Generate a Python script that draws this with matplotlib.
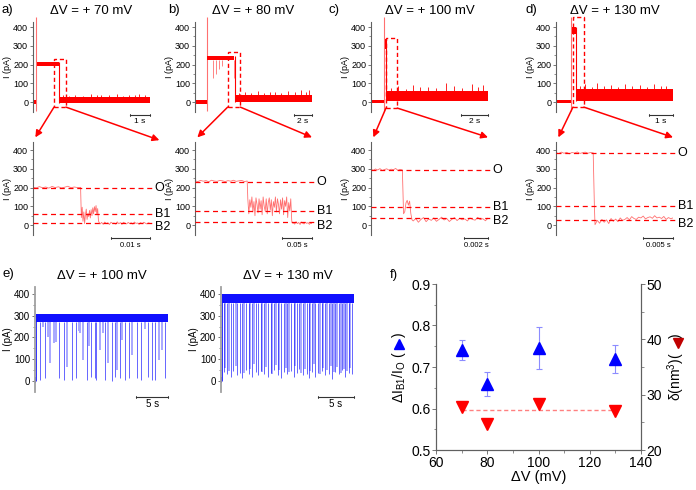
import numpy as np
import matplotlib.pyplot as plt
from matplotlib.patches import Rectangle, ConnectionPatch

plt.rcParams["font.family"] = ["Liberation Sans", "DejaVu Sans"]
plt.rcParams["mathtext.fontset"] = "custom"
plt.rcParams["mathtext.rm"] = "Liberation Sans"
plt.rcParams["mathtext.it"] = "Liberation Sans:italic"

# ---------------- data ----------------
# top traces: segments (start s, end s, band low pA, band high pA)
a_top_t0 = [0.0, 0.2, 1.3]
a_top_t1 = [0.15, 1.3, 5.85]
a_top_lo = [-8, 190, -4]
a_top_hi = [12, 214, 28]
a_top_spike = 0.17
a_top_bump_t = [1.5, 1.8, 2.1, 2.5, 2.9, 3.2, 3.4, 3.8, 4.2, 4.5, 4.8, 5.1, 5.3, 5.6]
a_top_bump_I = [40, 34, 38, 33, 45, 35, 36, 40, 42, 34, 39, 37, 44, 36]
a_win = [1.05, 1.65, -27, 229]

b_top_t0 = [0.0, 1.35, 4.45]
b_top_t1 = [1.3, 4.3, 12.9]
b_top_lo = [-8, 222, -2]
b_top_hi = [10, 247, 40]
b_top_spike = 1.32
b_top_bump_t = [4.9, 5.5, 6.2, 7.0, 7.6, 8.3, 8.8, 9.5, 10.3, 11.0, 11.7, 12.2, 12.6]
b_top_bump_I = [50, 55, 48, 60, 50, 54, 52, 49, 58, 53, 62, 55, 65]
b_open_dip_t = [2.0, 2.3, 2.6, 3.0, 4.35]
b_open_dip_I = [130, 150, 175, 190, 130]
b_win = [3.6, 5.0, -27, 267]

c_top_t0 = [0.0, 1.0, 1.13]
c_top_t1 = [0.96, 1.11, 8.6]
c_top_lo = [-5, 285, 3]
c_top_hi = [12, 335, 60]
c_top_spike = 0.98
c_top_bump_t = [1.5, 2.0, 2.6, 3.1, 3.6, 4.2, 4.8, 5.5, 6.1, 6.7, 7.4, 7.9, 8.2]
c_top_bump_I = [75, 85, 72, 90, 78, 80, 74, 100, 88, 76, 95, 80, 92]
c_win = [1.1, 1.93, -32, 341]

d_top_t0 = [0.0, 0.66, 0.85]
d_top_t1 = [0.62, 0.83, 4.9]
d_top_lo = [-5, 365, 3]
d_top_hi = [10, 400, 68]
d_top_spike = 0.64
d_top_bump_t = [1.0, 1.2, 1.5, 1.7, 2.0, 2.3, 2.6, 2.9, 3.2, 3.5, 3.8, 4.1, 4.4, 4.6]
d_top_bump_I = [85, 95, 80, 100, 84, 90, 82, 98, 86, 92, 81, 96, 84, 88]
d_win = [0.71, 1.17, -27, 453]

# zoomed traces: (segment start, segment end) and sampled currents in pA
za_spans = [(0.0, 0.0122), (0.0124, 0.0170), (0.0172, 0.030)]
za_vals = [
    [202, 198, 205, 199, 203, 197, 206, 200, 204, 198, 202, 207, 199, 203, 200, 201],
    [40, 95, 20, 70, 8, 55, 85, 30, 62, 45, 78, 38, 82, 50, 92, 60, 98, 72, 104, 55, 88, 22, 12],
    [6, 14, 4, 16, 8, 12, 3, 15, 9, 11, 5, 17, 7, 13, 4, 15, 10, 6, 14, 8, 12, 5, 16, 9, 11, 4, 13, 7, 15, 10, 6, 12, 9],
]
za_levels = [200, 60, 10]

zb_spans = [(0.0, 0.087), (0.088, 0.163), (0.164, 0.195)]
zb_vals = [
    [236, 232, 238, 234, 237, 231, 239, 235, 233, 238, 236, 232, 237, 234, 239, 233, 236, 238, 232, 235],
    [140, 60, 135, 95, 150, 70, 125, 50, 145, 110, 65, 140, 85, 130, 55, 150, 100, 75, 140, 60, 120, 145, 80,
     135, 50, 125, 95, 150, 70, 140, 110, 60, 135, 85, 145, 55, 130, 100, 150, 40, 120, 75, 140, 20, 10],
    [12, 5, 18, 8, 14, 3, 16, 10, 6, 15, 9, 13, 4, 11, 8],
]
zb_levels = [230, 75, 15]

zc_spans = [(0.0, 0.0026), (0.0027, 0.0034), (0.0035, 0.0097)]
zc_vals = [
    [297, 292, 299, 294, 301, 291, 296, 300, 293, 298, 295, 302, 292, 297, 294],
    [60, 72, 118, 132, 106, 128, 62, 28],
    [22, 35, 15, 30, 40, 18, 33, 25, 38, 20, 30, 42, 27, 35, 19, 31, 40, 24, 36, 28, 33, 22, 38, 30, 26,
     41, 29, 34, 23, 37],
]
zc_levels = [295, 95, 40]

zd_spans = [(0.0, 0.0062), (0.0063, 0.0064), (0.0065, 0.0195)]
zd_vals = [
    [386, 381, 389, 383, 388, 380, 387, 384, 390, 382, 386, 389, 383, 387, 385],
    [240, 100],
    [2, 25, 10, 30, 15, 28, 8, 35, 20, 32, 18, 38, 25, 30, 40, 28, 45, 35, 30, 42, 38, 48, 33, 40, 44, 36,
     50, 38, 42, 35, 46, 30, 40, 34, 38],
]
zd_levels = [385, 100, 25]
level_names = ["O", "B1", "B2"]

# panel e: long recordings, open band and blockade events (time s, lowest pA)
e1_T = 21.0
e1_band = [272, 308]
e1_strong_t = [0.8, 1.6, 3.8, 4.5, 5.8, 6.4, 8.2, 8.8, 9.5, 9.7, 11.1, 12.1, 12.6, 13.4, 14.2, 14.9, 16.1,
               16.8, 17.9, 18.4, 18.9, 20.5]
e1_strong_I = [5, 12, 12, 5, 5, 12, 5, 20, 12, 5, 5, 0, 20, 12, 5, 12, 12, 5, 20, 5, 5, 12]
e1_faint_t = [1.2, 2.0, 2.4, 3.0, 3.3, 5.1, 6.9, 7.1, 7.6, 8.5, 10.3, 10.8, 11.6, 13.0, 13.8, 15.3, 17.3,
              19.5, 20.0]
e1_faint_I = [250, 200, 81, 173, 180, 66, 230, 219, 97, 160, 143, 220, 81, 51, 190, 120, 240, 97, 143]

e2_T = 18.3
e2_band = [360, 402]
e2_strong_t = [0.4, 0.8, 1.4, 1.7, 2.2, 2.6, 2.9, 3.5, 3.8, 4.3, 4.8, 5.1, 5.5, 5.9, 6.4, 6.9, 7.3, 7.8,
               8.3, 8.6, 9.1, 9.6, 10.0, 10.4, 10.8, 11.3, 11.8, 12.1, 12.5, 13.0, 13.4, 13.9, 14.3, 14.8,
               15.3, 15.7, 16.2, 16.7, 17.1, 17.6, 18.0]
e2_strong_I = [40, 30, 20, 45, 25, 35, 15, 50, 30, 20, 40, 25, 45, 30, 20, 35, 50, 25, 15, 40, 30, 45, 20,
               35, 55, 25, 30, 15, 40, 20, 35, 45, 25, 30, 10, 40, 30, 50, 20, 35, 30]
e2_faint_t = [0.6, 1.1, 2.0, 3.2, 4.0, 4.6, 5.7, 6.2, 7.0, 7.6, 8.0, 8.9, 9.4, 10.2, 11.0, 11.6, 12.3, 12.8,
              13.6, 14.1, 14.6, 15.1, 15.5, 16.0, 16.5, 16.9, 17.4, 17.8]
e2_faint_I = [60, 45, 70, 35, 55, 80, 40, 65, 30, 75, 50, 60, 40, 70, 35, 55, 45, 80, 30, 60, 50, 70, 40,
              65, 35, 55, 45, 60]

# panel f
f_dv = [70, 80, 100, 130]
f_ratio = [0.741, 0.659, 0.746, 0.719]
f_ratio_err = [0.024, 0.028, 0.050, 0.033]
f_delta = [27.8, 24.7, 28.3, 27.1]
f_delta_mean = 27.2

# ---------------- drawing ----------------
RED = "#ff0000"
RED_LIGHT = "#ff7070"
BLUE = "#1010ff"
BLUE_LIGHT = "#a8a8ff"
AXC = "#606060"
W, H = 696, 490

fig = plt.figure(figsize=(6.96, 4.9), dpi=100)


def px_axes(left, top, width, height):
    return fig.add_axes([left / W, 1 - (top + height) / H, width / W, height / H])


def trace_style(ax, ylim, fs=6.5):
    ax.set_ylim(*ylim)
    for s in ["top", "right", "bottom"]:
        ax.spines[s].set_visible(False)
    ax.spines["left"].set_color(AXC)
    ax.spines["left"].set_linewidth(0.8)
    ax.set_xticks([])
    ax.set_yticks([0, 100, 200, 300, 400])
    ax.set_yticks([50, 150, 250, 350], minor=True)
    ax.tick_params(axis="y", which="major", labelsize=fs, length=2.5, width=0.6, pad=1, color=AXC)
    ax.tick_params(axis="y", which="minor", length=1.5, width=0.5, color=AXC)
    ax.set_ylabel("I (pA)", fontsize=fs, labelpad=1)
    ax.patch.set_alpha(0)


def scale_bar(ax, T, length, label, y, ytext, fs=6):
    ax.plot([T - length, T], [y, y], color="#333333", lw=0.8, clip_on=False)
    for x in (T - length, T):
        ax.plot([x, x], [y - 6, y + 6], color="#333333", lw=0.6, clip_on=False)
    ax.text(T - length / 2, ytext, label, ha="center", va="center", fontsize=fs)


def draw_top(ax, t0, t1, lo, hi, spike, bump_t, bump_I, win, T):
    for a, b, l, h in zip(t0, t1, lo, hi):
        ax.fill_between([a, b], [l, l], [h, h], color=RED, lw=0, zorder=2)
    ax.vlines(spike, -50, 455, color=RED_LIGHT, lw=0.8, clip_on=False, zorder=1)
    ax.vlines(t0[-1], lo[-1], hi[-2], color=RED, lw=0.8)
    ax.vlines(bump_t, hi[-1], bump_I, color=RED, lw=0.6)
    ax.add_patch(Rectangle((win[0], win[2]), win[1] - win[0], win[3] - win[2], fill=False,
                           ec=RED, ls=(0, (3, 2)), lw=1.0, clip_on=False, zorder=3))
    ax.set_xlim(0, T)


def draw_zoom(ax, spans, vals, levels, T):
    t = np.concatenate([np.linspace(s[0], s[1], len(v)) for s, v in zip(spans, vals)])
    I = np.concatenate([np.asarray(v, float) for v in vals])
    ax.plot(t, I, color=RED_LIGHT, lw=0.6, zorder=2)
    for lev, name in zip(levels, level_names):
        ax.plot([0, T * 1.02], [lev, lev], color=RED, ls=(0, (4, 3)), lw=0.9, clip_on=False, zorder=3)
        off = -18 if name == "B2" else 0
        ax.text(T * 1.04, lev + off, name, fontsize=9, va="center", ha="left")
    ax.set_xlim(0, T)


def arrows(ax_top, ax_zoom, win, right_tip=(1.0, 1.05)):
    for xa, tip in ((win[0], (0.02, 1.05)), (win[1], right_tip)):
        con = ConnectionPatch(xyA=(xa, win[2]), coordsA=ax_top.transData, xyB=tip,
                              coordsB=ax_zoom.transAxes, arrowstyle="-|>", color=RED, lw=1.1,
                              mutation_scale=10, zorder=5)
        fig.add_artist(con)


top_y = (-53, 427)
zoom_y = (-53, 443)
lefts = [33, 195, 371, 556]
titles = ["ΔV = + 70 mV", "ΔV = + 80 mV", "ΔV = + 100 mV", "ΔV = + 130 mV"]
letters = ["a)", "b)", "c)", "d)"]
letter_x = [7, 174, 334, 531]

top_specs = [
    (a_top_t0, a_top_t1, a_top_lo, a_top_hi, a_top_spike, a_top_bump_t, a_top_bump_I, a_win, 5.85, 1, "1 s"),
    (b_top_t0, b_top_t1, b_top_lo, b_top_hi, b_top_spike, b_top_bump_t, b_top_bump_I, b_win, 12.9, 2, "2 s"),
    (c_top_t0, c_top_t1, c_top_lo, c_top_hi, c_top_spike, c_top_bump_t, c_top_bump_I, c_win, 8.6, 2, "2 s"),
    (d_top_t0, d_top_t1, d_top_lo, d_top_hi, d_top_spike, d_top_bump_t, d_top_bump_I, d_win, 4.9, 1, "1 s"),
]
zoom_specs = [
    (za_spans, za_vals, za_levels, 0.030, 0.01, "0.01 s"),
    (zb_spans, zb_vals, zb_levels, 0.195, 0.05, "0.05 s"),
    (zc_spans, zc_vals, zc_levels, 0.0097, 0.002, "0.002 s"),
    (zd_spans, zd_vals, zd_levels, 0.0195, 0.005, "0.005 s"),
]

for i in range(4):
    ax_t = px_axes(lefts[i], 22, 117, 90)
    ax_z = px_axes(lefts[i], 142, 117, 93)
    trace_style(ax_t, top_y)
    trace_style(ax_z, zoom_y)
    t0, t1, lo, hi, sp, bt, bI, win, T, bl, blab = top_specs[i]
    draw_top(ax_t, t0, t1, lo, hi, sp, bt, bI, win, T)
    scale_bar(ax_t, T, bl, blab, -69, -103)
    if i == 1:
        ax_t.vlines(b_open_dip_t, b_open_dip_I, b_top_lo[1], color=RED_LIGHT, lw=0.6)
    spans, vals, levels, Tz, zl, zlab = zoom_specs[i]
    draw_zoom(ax_z, spans, vals, levels, Tz)
    scale_bar(ax_z, Tz, zl, zlab, -69, -107, fs=5.5)
    arrows(ax_t, ax_z, win, right_tip=(1.08, 1.02) if i == 0 else (1.0, 1.05))
    ax_t.set_title(titles[i], fontsize=9.5, pad=6)
    fig.text(letter_x[i] / W, 1 - 10 / H, letters[i], fontsize=9.5, ha="center", va="center")

# panel e
e_y = (-51, 432)
for left, T, band, st, sI, ft, fI, title in (
        (35, e1_T, e1_band, e1_strong_t, e1_strong_I, e1_faint_t, e1_faint_I, "ΔV = + 100 mV"),
        (221, e2_T, e2_band, e2_strong_t, e2_strong_I, e2_faint_t, e2_faint_I, "ΔV = + 130 mV")):
    ax = px_axes(left, 287, 133, 105)
    trace_style(ax, e_y, fs=7)
    ax.spines["left"].set_color("#a0a0a0")
    ax.spines["left"].set_linewidth(1.3)
    ax.fill_between([0, 0.12], [-10, -10], [20, 20], color=BLUE, lw=0)
    ax.vlines(0.12, 0, band[1], color=BLUE, lw=0.6)
    ax.fill_between([0.12, T], [band[0], band[0]], [band[1], band[1]], color=BLUE, lw=0, zorder=3)
    ax.vlines(ft, fI, band[0], color=BLUE_LIGHT, lw=1.4, zorder=1)
    ax.vlines(st, sI, band[0], color=BLUE, lw=0.6, alpha=0.75, zorder=2)
    ax.set_xlim(0, T)
    scale_bar(ax, T, 5, "5 s", -74, -106, fs=7)
    ax.set_title(title, fontsize=9.5, pad=6)
fig.text(8 / W, 1 - 274 / H, "e)", fontsize=9.5, ha="center", va="center")

# panel f
axf = px_axes(436, 284, 205, 166)
axf.errorbar(f_dv, f_ratio, yerr=f_ratio_err, fmt="^", color="#0000ff", ms=9, ecolor="#8c8cff",
             elinewidth=0.8, capsize=2.5, capthick=0.8, zorder=3)
axf.set_xlim(60, 140)
axf.set_ylim(0.5, 0.9)
axf.set_xticks([60, 80, 100, 120, 140])
axf.set_xticks([70, 90, 110, 130], minor=True)
axf.set_yticks([0.5, 0.6, 0.7, 0.8, 0.9])
axf.set_yticks([0.55, 0.65, 0.75, 0.85], minor=True)
axf.set_xlabel("ΔV (mV)", fontsize=10.5, labelpad=0)
axf.set_ylabel("ΔI$_{\\mathrm{B1}}$/I$_{\\mathrm{O}}$ (    )", fontsize=10, labelpad=2)
axf2 = axf.twinx()
axf2.plot(f_dv, f_delta, "v", color=RED, ms=9, zorder=3)
axf2.plot([f_dv[0], f_dv[-1]], [f_delta_mean, f_delta_mean], ls=(0, (3, 2)), color="#ff8080", lw=1)
axf2.set_ylim(20, 50)
axf2.set_yticks([20, 30, 40, 50])
axf2.set_yticks([25, 35, 45], minor=True)
axf2.set_ylabel("δ(nm$^3$)(    )", fontsize=10, labelpad=2)
for a in (axf, axf2):
    a.spines["top"].set_visible(False)
    for s in a.spines.values():
        s.set_color(AXC)
        s.set_linewidth(0.8)
    a.tick_params(which="major", labelsize=10, length=3, width=0.6, pad=1, color=AXC)
    a.tick_params(which="minor", length=1.8, width=0.5, color=AXC)
axf.plot([-0.18], [0.64], "^", color="#0000ff", ms=7, transform=axf.transAxes, clip_on=False)
axf2.plot([1.18], [0.645], "v", color="#c00000", ms=7, transform=axf2.transAxes, clip_on=False)
fig.text(394 / W, 1 - 275 / H, "f)", fontsize=9.5, ha="center", va="center")

fig.savefig("out.png", dpi=100)
